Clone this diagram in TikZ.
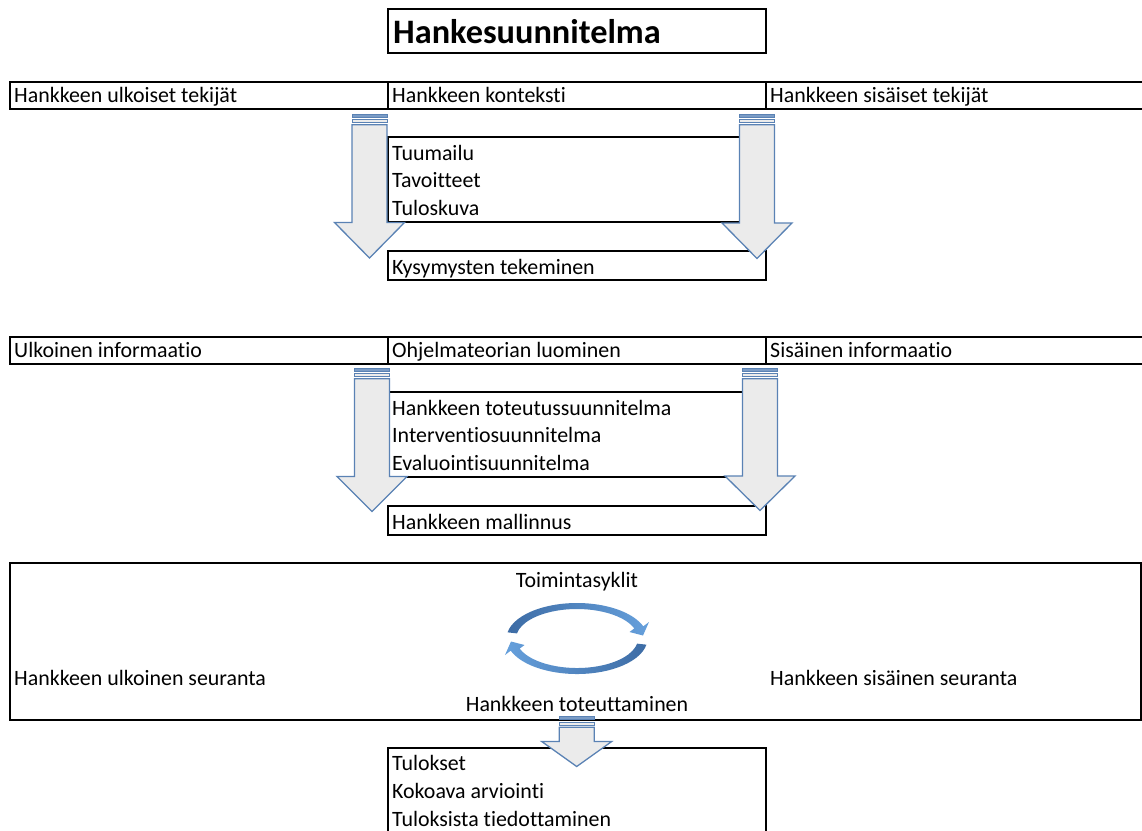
\documentclass[tikz,border=0pt]{standalone}
\usepackage{fontspec}
\setmainfont{Carlito}[Ligatures=NoCommon]
\usetikzlibrary{calc}
\definecolor{arrowline}{HTML}{5A82B4}
\definecolor{arrowfill}{HTML}{EBEBEB}
\definecolor{stripefill}{HTML}{7B9CC6}
\definecolor{cycdark}{HTML}{3D6CA5}
\definecolor{cyclight}{HTML}{66A0DC}
\tikzset{
  frame/.style={draw=black, line width=2.2pt},
  txt/.style={inner sep=0pt, anchor=base west, font=\fontsize{21.9}{26}\selectfont},
  ctxt/.style={inner sep=0pt, anchor=base, font=\fontsize{21.9}{26}\selectfont},
  titletxt/.style={inner sep=0pt, anchor=base west, font=\fontsize{34.3}{40}\selectfont\bfseries},
  blockarr/.style={draw=arrowline, fill=arrowfill, line width=1.3pt, line join=miter},
  stripe/.style={draw=arrowline, fill=stripefill, line width=1pt},
  stripelight/.style={draw=arrowline, fill=arrowfill, line width=1pt},
}
% block arrow pointing down: #1 centre x, #2 top y, #3 y where the head starts, #4 tip y
\newcommand\blockarrowdown[4]{%
  \path[stripe] ({#1-17.5},{#2}) rectangle ({#1+17.5},{#2+3});
  \path[stripelight] ({#1-17.5},{#2+5.3}) rectangle ({#1+17.5},{#2+8.3});
  \path[blockarr] ({#1-17.5},{#2+10.5}) -- ({#1+17.5},{#2+10.5}) -- ({#1+17.5},{#3})
    -- ({#1+35},{#3}) -- ({#1},{#4}) -- ({#1-35},{#3}) -- ({#1-17.5},{#3}) -- cycle;
}
\begin{document}
\begin{tikzpicture}[x=1pt, y=-1pt]
\useasboundingbox (0,0) rectangle (1142,830);
\clip (0,0) rectangle (1142,830);

% title
\draw[frame] (388,9) rectangle (766,53);
\node[titletxt] (title) at (393,43.5) {Hankesuunnitelma};

% first block: context
\draw[frame] (10,82) rectangle (1150,109);
\draw[frame] (388,82) -- (388,109);
\draw[frame] (766,82) -- (766,109);
\node[txt] (ulk) at (14,102) {Hankkeen ulkoiset tekijät};
\node[txt] (kont) at (392,102) {Hankkeen konteksti};
\node[txt] (sis) at (770,102) {Hankkeen sisäiset tekijät};

\draw[frame] (388,137) rectangle (766,222);
\node[txt] (tuum) at (392,160) {Tuumailu};
\node[txt] (tav) at (392,187.5) {Tavoitteet};
\node[txt] (tulk) at (392,215) {Tuloskuva};

\draw[frame] (388,251) rectangle (766,280);
\node[txt] (kys) at (392,274) {Kysymysten tekeminen};

\blockarrowdown{369.5}{114.3}{222.5}{258}
\blockarrowdown{757}{114.3}{223}{258.5}

% second block: programme theory
\draw[frame] (10,337) rectangle (1150,364);
\draw[frame] (388,337) -- (388,364);
\draw[frame] (766,337) -- (766,364);
\node[txt] (uinf) at (14,357) {Ulkoinen informaatio};
\node[txt] (ohj) at (392,357) {Ohjelmateorian luominen};
\node[txt] (sinf) at (770,357) {Sisäinen informaatio};

\draw[frame] (388,392) rectangle (766,477);
\node[txt] (tots) at (392,415) {Hankkeen toteutussuunnitelma};
\node[txt] (ints) at (392,442.5) {Interventiosuunnitelma};
\node[txt] (evs) at (392,470) {Evaluointisuunnitelma};

\draw[frame] (388,506) rectangle (766,535);
\node[txt] (mall) at (392,529) {Hankkeen mallinnus};

\blockarrowdown{372}{368.3}{476.5}{511.5}
\blockarrowdown{760}{368.3}{476}{510.5}

% third block: implementation
\draw[frame] (10,563) rectangle (1141,720);
\node[ctxt] (toim) at (577,587) {Toimintasyklit};
\node[txt] (useur) at (14,685) {Hankkeen ulkoinen seuranta};
\node[txt] (sseur) at (770,685) {Hankkeen sisäinen seuranta};
\node[ctxt] (tote) at (577,711.5) {Hankkeen toteuttaminen};

% circular arrows
\coordinate (cyc) at (577,638.5);
\shade[left color=cycdark, right color=cyclight]
  ($(cyc)+(190:70.5 and 35.5)$) arc[start angle=190, end angle=340, x radius=70.5, y radius=35.5]
  -- (649,622) -- (643,635.5) -- (629.5,632)
  -- ($(cyc)+(340:61 and 29.5)$) arc[start angle=340, end angle=190, x radius=61, y radius=29.5]
  -- cycle;
\shade[left color=cyclight, right color=cycdark]
  ($(cyc)+(10:70.5 and 35.5)$) arc[start angle=10, end angle=160, x radius=70.5, y radius=35.5]
  -- (505,655) -- (511,641.5) -- (524.5,645)
  -- ($(cyc)+(160:61 and 29.5)$) arc[start angle=160, end angle=10, x radius=61, y radius=29.5]
  -- cycle;

% results
\draw[frame] (388,748) rectangle (766,845);
\node[txt] (tul) at (392,770) {Tulokset};
\node[txt] (kok) at (392,798) {Kokoava arviointi};
\node[txt] (tied) at (392,826) {Tuloksista tiedottaminen};

\blockarrowdown{576.7}{716.8}{741.5}{766.5}
\end{tikzpicture}
\end{document}
